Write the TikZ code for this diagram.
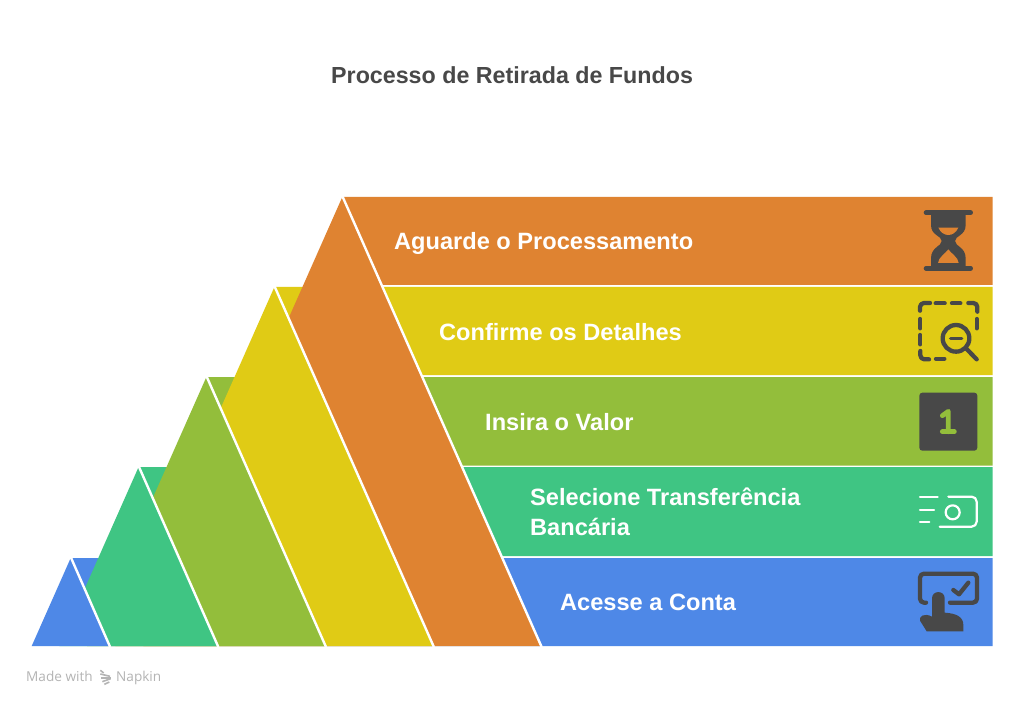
\documentclass[tikz,border=0pt]{standalone}
\usepackage{fontspec}
\setmainfont{Liberation Sans}
\newfontfamily\markfont{Open Sans}
\definecolor{cOrange}{HTML}{DF8331}
\definecolor{cYellow}{HTML}{E0CB15}
\definecolor{cOlive}{HTML}{93BE3B}
\definecolor{cGreen}{HTML}{3FC583}
\definecolor{cBlue}{HTML}{4E88E7}
\definecolor{cDark}{HTML}{484848}
\definecolor{cMark}{HTML}{B4B4B4}
\tikzset{
  label text/.style={anchor=base west,text=white,font=\fontsize{23.6}{30}\selectfont\bfseries,inner sep=0pt,align=left},
  title text/.style={anchor=base west,text=cDark,font=\fontsize{23.25}{28}\selectfont\bfseries,inner sep=0pt},
  mark text/.style={anchor=base west,text=cMark,font=\markfont\fontsize{13.6}{17}\selectfont,inner sep=0pt},
  edge line/.style={draw=white,line width=2.4pt},
  icon/.style={draw=cDark,line width=4.3pt,line cap=round,line join=round},
  icon thin/.style={draw=white,line width=2.2pt,line cap=round,line join=round},
}
\newcommand{\tri}[3]{% colour, apex x, apex y
  \fill[#1] (#2,#3) -- ({#2+0.443*(646-#3)},646) -- ({#2-0.443*(646-#3)},646) -- cycle;
  \draw[edge line] (#2,#3-1) -- ({#2+0.443*(647-#3)},647);
}
\newcommand{\band}[4]{% colour, apex x, top, bottom
  \fill[#1] (#2,#3) -- (992.5,#3) -- (992.5,#4) -- ({#2+0.443*(#4-#3)},#4) -- cycle;
}
\begin{document}
\begin{tikzpicture}[x=1pt,y=-1pt]
\useasboundingbox (0,0) rectangle (1024,708);
\fill[white] (0,0) rectangle (1024,708);
% bands
\band{cOrange}{342.3}{197}{285}
\band{cYellow}{274.4}{287}{375}
\band{cOlive}{206.4}{377}{465.5}
\band{cGreen}{138.6}{467}{556}
\band{cBlue}{70.7}{558}{646}
% triangles, farthest first
\tri{cOrange}{342.3}{197}
\tri{cYellow}{274.4}{287}
\tri{cOlive}{206.4}{377}
\tri{cGreen}{138.6}{467}
\tri{cBlue}{70.7}{558}
% texts
\node[title text] (title) at (331,84) {Processo de Retirada de Fundos};
\node[label text] (l5) at (394,249.5) {Aguarde o Processamento};
\node[label text] (l4) at (439,340) {Confirme os Detalhes};
\node[label text] (l3) at (485,430) {Insira o Valor};
\node[label text,anchor=north west] (l2) at (530,487.5) {Selecione Transferência\\Bancária};
\node[label text] (l1) at (560,610.5) {Acesse a Conta};
\node[mark text] (m1) at (26,681) {Made with};
\node[mark text] (m2) at (116,681) {Napkin};
% Napkin logo
\begin{scope}[shift={(15,550)},scale=1/3,draw=cMark,line width=1.6pt]
  \draw (256,361) -- (266,369);
  \draw (256,372) -- (285,379);
  \draw (258,384) -- (288,384);
  \draw (262,395) -- (287,386);
  \draw (268,403) -- (283,396);
\end{scope}
% hourglass
\begin{scope}[shift={(900,195)},scale=1/3]
  \fill[cDark] (93,53) -- (197,53) -- (197,90) .. controls (197,122) and (165,122) .. (165,138) .. controls (165,154) and (197,156) .. (197,190) -- (197,220) -- (93,220) -- (93,190) .. controls (93,156) and (125,154) .. (125,138) .. controls (125,122) and (93,122) .. (93,90) -- cycle;
  \draw[icon,line width=4.6pt] (78,53) -- (212,53);
  \draw[icon,line width=4.6pt] (78,220) -- (212,220);
  \fill[cOrange] (115,98) -- (175,98) .. controls (168,113) and (157,120) .. (145,120) .. controls (133,120) and (122,113) .. (115,98) -- cycle;
  \fill[cOrange] (145,163) .. controls (150,172) and (176,188) .. (176,204) -- (114,204) .. controls (114,188) and (140,172) .. (145,163) -- cycle;
\end{scope}
% dashed magnifier
\begin{scope}[shift={(900,195)},scale=1/3]
  \draw[icon,rounded corners=4pt] (60,347) -- (60,324) -- (90,324);
  \draw[icon] (107,325) -- (134,325);
  \draw[icon] (156,325) -- (181,325);
  \draw[icon,rounded corners=4pt] (205,324) -- (232,324) -- (232,350);
  \draw[icon] (230,372) -- (230,400);
  \draw[icon] (61,372) -- (61,400);
  \draw[icon] (61,420) -- (61,448);
  \draw[icon,rounded corners=4pt] (61,468) -- (61,493) -- (87,493);
  \draw[icon] (108,491) -- (133,491);
  \draw[icon] (168,430) circle (40);
  \draw[icon] (198,460) -- (230,493);
  \draw[icon,line width=3.6pt] (152,430) -- (185,430);
\end{scope}
% number box
\begin{scope}[shift={(900,380)},scale=1/3]
  \fill[cDark,rounded corners=3pt] (58,38) rectangle (232,212);
  \draw[draw=cOlive,line width=4.8pt,line cap=round,line join=round] (127,107) -- (145,94) -- (145,155);
  \draw[draw=cOlive,line width=4.8pt,line cap=round] (127,155) -- (163,155);
\end{scope}
% money transfer
\begin{scope}[shift={(900,380)},scale=1/3]
  \draw[icon thin] (60,350) -- (113,350);
  \draw[icon thin] (60,389) -- (102,389);
  \draw[icon thin] (60,427) -- (88,427);
  \draw[icon thin,rounded corners=5pt] (145,350) -- (230,350) -- (230,440) -- (119,440);
  \draw[icon thin] (158,397) circle (21);
\end{scope}
% touch screen
\begin{scope}[shift={(900,560)},scale=1/3]
  \draw[icon,rounded corners=4pt] (78,128) -- (60,128) -- (60,41) -- (231,41) -- (231,128) -- (150,128);
  \draw[icon] (160,90) -- (177,103) -- (205,68);
  \fill[cDark] (96,115) .. controls (96,90) and (134,90) .. (134,115) -- (134,158) .. controls (168,160) and (190,170) .. (190,195) -- (190,214) -- (80,214) -- (60,182) .. controls (56,168) and (74,158) .. (96,170) -- cycle;
\end{scope}
\end{tikzpicture}
\end{document}
